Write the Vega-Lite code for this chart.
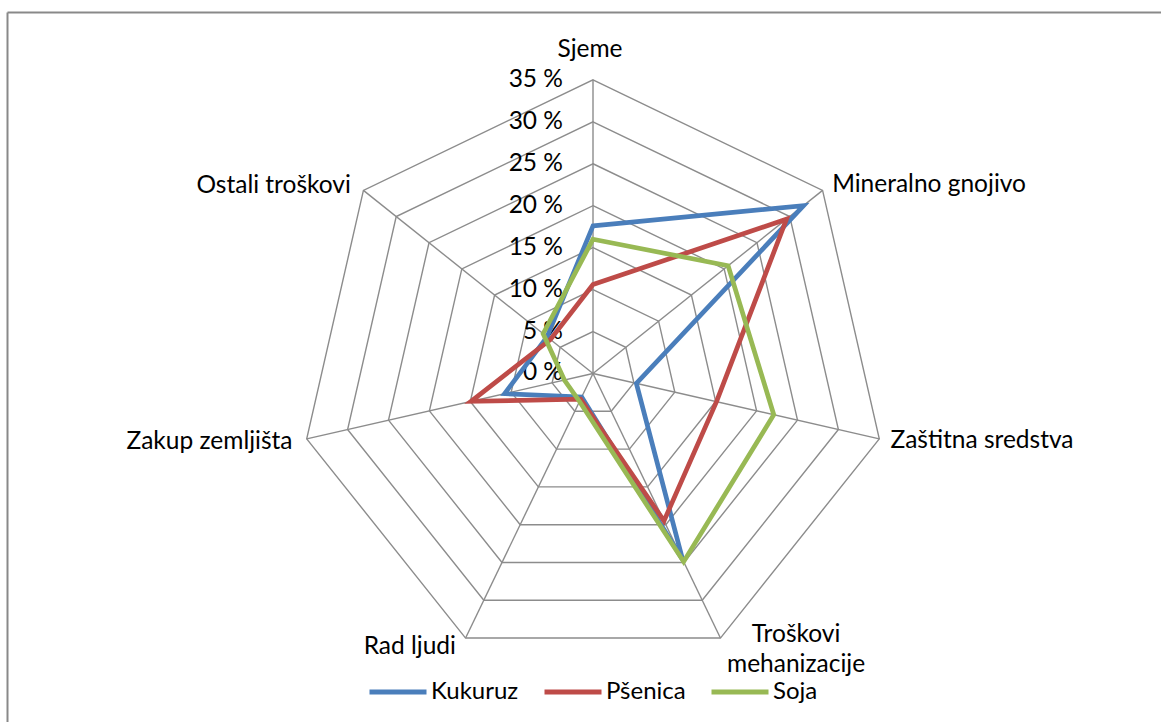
{
  "$schema": "https://vega.github.io/schema/vega-lite/v6.json",
  "width": 1154,
  "height": 710,
  "autosize": {"type": "none"},
  "padding": {"left": 7, "top": 12, "right": 0, "bottom": 0},
  "background": "white",
  "config": {"view": {"stroke": null}, "font": "Lato", "text": {"font": "Lato", "fontSize": 24.5, "color": "#000000"}},
  "datasets": {
    "vals": [
      {"series": "Kukuruz", "cat": "Sjeme", "k": 0, "v": 17.6},
      {"series": "Kukuruz", "cat": "Mineralno gnojivo", "k": 1, "v": 32.1},
      {"series": "Kukuruz", "cat": "Zaštitna sredstva", "k": 2, "v": 5.3},
      {"series": "Kukuruz", "cat": "Troškovi mehanizacije", "k": 3, "v": 24.6},
      {"series": "Kukuruz", "cat": "Rad ljudi", "k": 4, "v": 3.1},
      {"series": "Kukuruz", "cat": "Zakup zemljišta", "k": 5, "v": 10.8},
      {"series": "Kukuruz", "cat": "Ostali troškovi", "k": 6, "v": 7.0},
      {"series": "Pšenica", "cat": "Sjeme", "k": 0, "v": 10.6},
      {"series": "Pšenica", "cat": "Mineralno gnojivo", "k": 1, "v": 29.5},
      {"series": "Pšenica", "cat": "Zaštitna sredstva", "k": 2, "v": 15.1},
      {"series": "Pšenica", "cat": "Troškovi mehanizacije", "k": 3, "v": 19.5},
      {"series": "Pšenica", "cat": "Rad ljudi", "k": 4, "v": 3.4},
      {"series": "Pšenica", "cat": "Zakup zemljišta", "k": 5, "v": 14.9},
      {"series": "Pšenica", "cat": "Ostali troškovi", "k": 6, "v": 6.5},
      {"series": "Soja", "cat": "Sjeme", "k": 0, "v": 16.0},
      {"series": "Soja", "cat": "Mineralno gnojivo", "k": 1, "v": 20.6},
      {"series": "Soja", "cat": "Zaštitna sredstva", "k": 2, "v": 22.1},
      {"series": "Soja", "cat": "Troškovi mehanizacije", "k": 3, "v": 24.9},
      {"series": "Soja", "cat": "Rad ljudi", "k": 4, "v": 3.7},
      {"series": "Soja", "cat": "Zakup zemljišta", "k": 5, "v": 3.5},
      {"series": "Soja", "cat": "Ostali troškovi", "k": 6, "v": 7.6}
    ],
    "axes": [
      {"cat": "Sjeme", "k": 0},
      {"cat": "Mineralno gnojivo", "k": 1},
      {"cat": "Zaštitna sredstva", "k": 2},
      {"cat": "Troškovi\nmehanizacije", "k": 3},
      {"cat": "Rad ljudi", "k": 4},
      {"cat": "Zakup zemljišta", "k": 5},
      {"cat": "Ostali troškovi", "k": 6}
    ],
    "levels": [
      {"lvl": 0, "lab": "0 %"},
      {"lvl": 5, "lab": "5 %"},
      {"lvl": 10, "lab": "10 %"},
      {"lvl": 15, "lab": "15 %"},
      {"lvl": 20, "lab": "20 %"},
      {"lvl": 25, "lab": "25 %"},
      {"lvl": 30, "lab": "30 %"},
      {"lvl": 35, "lab": "35 %"}
    ],
    "rings": [
      {"lvl": 5, "k": [0, 1, 2, 3, 4, 5, 6]},
      {"lvl": 10, "k": [0, 1, 2, 3, 4, 5, 6]},
      {"lvl": 15, "k": [0, 1, 2, 3, 4, 5, 6]},
      {"lvl": 20, "k": [0, 1, 2, 3, 4, 5, 6]},
      {"lvl": 25, "k": [0, 1, 2, 3, 4, 5, 6]},
      {"lvl": 30, "k": [0, 1, 2, 3, 4, 5, 6]},
      {"lvl": 35, "k": [0, 1, 2, 3, 4, 5, 6]}
    ]
  },
  "encoding": {
    "x": {"field": "x", "type": "quantitative", "scale": {"domain": [-69.845, 67.699], "nice": false, "zero": false},
      "axis": {"orient": "top", "labels": false, "ticks": false, "grid": false, "title": null, "domainColor": "#898989", "domainWidth": 2}},
    "y": {"field": "y", "type": "quantitative", "scale": {"domain": [-41.538, 43.087], "nice": false, "zero": false},
      "axis": {"orient": "left", "labels": false, "ticks": false, "grid": false, "title": null, "domainColor": "#898989", "domainWidth": 2}}
  },
  "layer": [
    {
      "data": {"name": "rings"},
      "transform": [
        {"flatten": ["k"]},
        {"calculate": "datum.lvl*sin(datum.k*2*PI/7)", "as": "x"},
        {"calculate": "datum.lvl*cos(datum.k*2*PI/7)", "as": "y"}
      ],
      "mark": {"type": "line", "interpolate": "linear-closed", "color": "#8c8c8c", "strokeWidth": 1.4},
      "encoding": {"detail": {"field": "lvl", "type": "nominal"}, "order": {"field": "k", "type": "quantitative"}}
    },
    {
      "data": {"name": "axes"},
      "transform": [
        {"calculate": "0", "as": "x"},
        {"calculate": "0", "as": "y"},
        {"calculate": "35*sin(datum.k*2*PI/7)", "as": "x2"},
        {"calculate": "35*cos(datum.k*2*PI/7)", "as": "y2"}
      ],
      "mark": {"type": "rule", "color": "#8c8c8c", "strokeWidth": 1.4},
      "encoding": {"x2": {"field": "x2"}, "y2": {"field": "y2"}}
    },
    {
      "data": {"name": "levels"},
      "transform": [
        {"calculate": "0", "as": "x"},
        {"calculate": "datum.lvl", "as": "y"}
      ],
      "mark": {"type": "text", "align": "right", "baseline": "middle", "dx": -30},
      "encoding": {"text": {"field": "lab", "type": "nominal"}}
    },
    {
      "data": {"name": "vals"},
      "transform": [
        {"calculate": "datum.v*sin(datum.k*2*PI/7)", "as": "x"},
        {"calculate": "datum.v*cos(datum.k*2*PI/7)", "as": "y"}
      ],
      "mark": {"type": "line", "interpolate": "linear-closed", "strokeWidth": 4.7, "strokeJoin": "miter"},
      "encoding": {
        "color": {"field": "series", "type": "nominal",
          "scale": {"domain": ["Kukuruz", "Pšenica", "Soja"], "range": ["#4a7ebb", "#be4b48", "#98b954"]},
          "legend": {"title": null, "orient": "none", "direction": "horizontal", "legendX": 360, "legendY": 649,
            "padding": 0, "symbolType": "stroke", "symbolSize": 3249, "symbolStrokeWidth": 5,
            "labelFont": "Lato", "labelFontSize": 24, "labelColor": "#000000", "labelOffset": 2, "columnPadding": 15}},
        "order": {"field": "k", "type": "quantitative"}
      }
    },
    {
      "data": {"name": "axes"},
      "transform": [
        {"filter": "datum.k == 0"},
        {"calculate": "36*sin(datum.k*2*PI/7)", "as": "x"},
        {"calculate": "36*cos(datum.k*2*PI/7)", "as": "y"}
      ],
      "mark": {"type": "text", "align": "center", "baseline": "middle", "dx": -3, "dy": -21},
      "encoding": {"text": {"field": "cat", "type": "nominal"}}
    },
    {
      "data": {"name": "axes"},
      "transform": [
        {"filter": "datum.k == 1 || datum.k == 2"},
        {"calculate": "36*sin(datum.k*2*PI/7)", "as": "x"},
        {"calculate": "36*cos(datum.k*2*PI/7)", "as": "y"}
      ],
      "mark": {"type": "text", "align": "left", "baseline": "middle", "dx": 3, "dy": 0},
      "encoding": {"text": {"field": "cat", "type": "nominal"}}
    },
    {
      "data": {"name": "axes"},
      "transform": [
        {"filter": "datum.k == 3"},
        {"calculate": "36*sin(datum.k*2*PI/7)", "as": "x"},
        {"calculate": "36*cos(datum.k*2*PI/7)", "as": "y"}
      ],
      "mark": {"type": "text", "align": "center", "baseline": "middle", "dx": 72, "dy": -11, "lineBreak": "\n", "lineHeight": 30},
      "encoding": {"text": {"field": "cat", "type": "nominal"}}
    },
    {
      "data": {"name": "axes"},
      "transform": [
        {"filter": "datum.k >= 4"},
        {"calculate": "36*sin(datum.k*2*PI/7)", "as": "x"},
        {"calculate": "36*cos(datum.k*2*PI/7)", "as": "y"}
      ],
      "mark": {"type": "text", "align": "right", "baseline": "middle", "dx": -6, "dy": 1},
      "encoding": {"text": {"field": "cat", "type": "nominal"}}
    }
  ]
}
